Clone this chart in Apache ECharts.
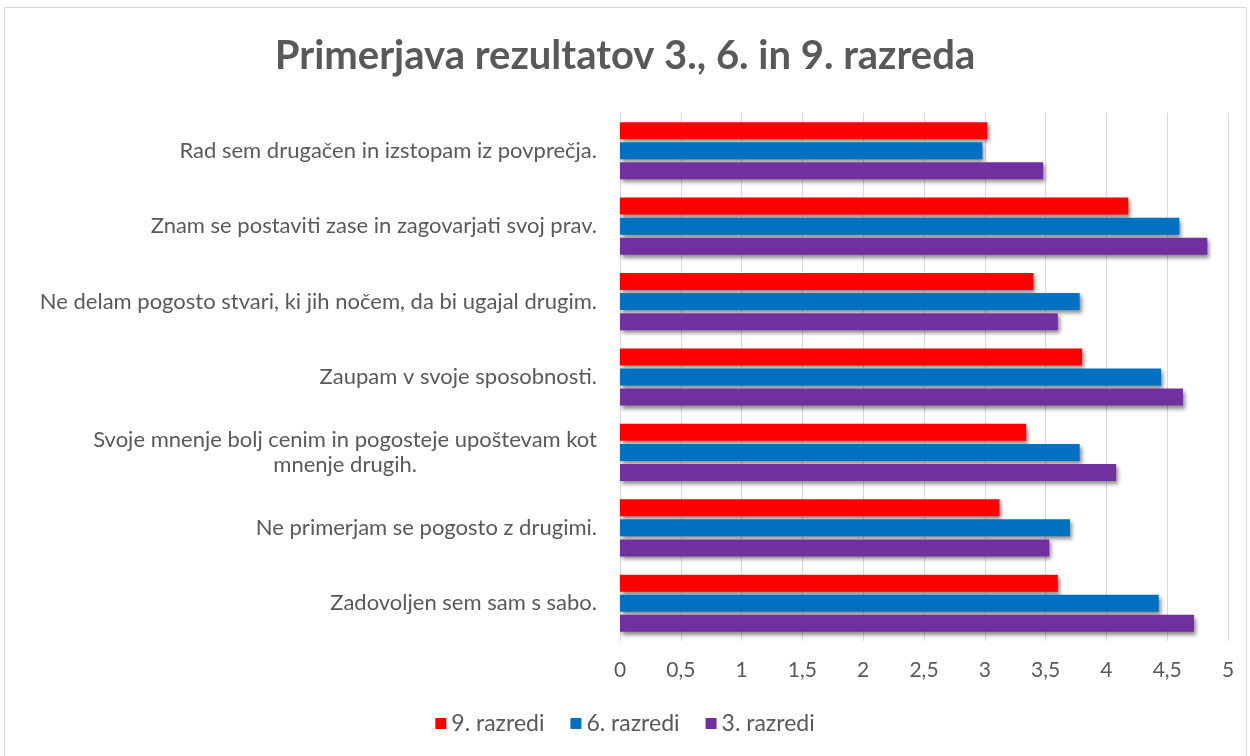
<!DOCTYPE html>
<html>
<head>
<meta charset="utf-8">
<script src="https://cdn.jsdelivr.net/npm/echarts@6/dist/echarts.min.js"></script>
<style>
  html, body { margin: 0; padding: 0; background: #fff; }
  #chart { width: 1250px; height: 756px; }
</style>
</head>
<body>
<div id="chart"></div>
<script>
  // kategorije (od zgoraj navzdol)
  var categories = [
    'Rad sem drugačen in izstopam iz povprečja.',
    'Znam se postaviti zase in zagovarjati svoj prav.',
    'Ne delam pogosto stvari, ki jih nočem, da bi ugajal drugim.',
    'Zaupam v svoje sposobnosti.',
    'Svoje mnenje bolj cenim in pogosteje upoštevam kot\nmnenje drugih.',
    'Ne primerjam se pogosto z drugimi.',
    'Zadovoljen sem sam s sabo.'
  ];
  var seriesNames = ['9. razredi', '6. razredi', '3. razredi'];
  var razred9 = [3.02, 4.18, 3.40, 3.80, 3.34, 3.12, 3.60];
  var razred6 = [2.98, 4.60, 3.78, 4.45, 3.78, 3.70, 4.43];
  var razred3 = [3.48, 4.83, 3.60, 4.63, 4.08, 3.53, 4.72];
  var colors = ['#FF0000', '#0070C0', '#7030A0'];

  var textColor = '#595959';
  var font = 'Lato, "Noto Sans", sans-serif';

  function barSeries(name, data, color) {
    return {
      name: name,
      type: 'bar',
      data: data,
      barWidth: 17,
      barGap: '18%',
      itemStyle: {
        color: color,
        shadowColor: 'rgba(0,0,0,0.45)',
        shadowBlur: 4,
        shadowOffsetX: 2,
        shadowOffsetY: 3
      }
    };
  }

  var myChart = echarts.init(document.getElementById('chart'));
  var options = {
    backgroundColor: '#fff',
    textStyle: { fontFamily: font },
    graphic: [{
      type: 'rect',
      shape: { x: 4.5, y: 7.5, width: 1242, height: 760 },
      style: { fill: 'none', stroke: '#d9d9d9', lineWidth: 1 },
      silent: true
    }],
    title: {
      text: 'Primerjava rezultatov 3., 6. in 9. razreda',
      left: 'center',
      top: 31,
      textStyle: {
        color: textColor,
        fontSize: 40,
        fontWeight: 'bold',
        fontFamily: font
      }
    },
    grid: {
      left: 620,
      right: 22,
      top: 113,
      bottom: 115
    },
    legend: {
      data: seriesNames,
      bottom: 16,
      left: 'center',
      icon: 'rect',
      itemWidth: 11,
      itemHeight: 11,
      itemGap: 26,
      textStyle: { color: textColor, fontSize: 23, fontFamily: font }
    },
    xAxis: {
      type: 'value',
      min: 0,
      max: 5,
      interval: 0.5,
      axisLine: { show: false },
      axisTick: { show: false },
      splitLine: { lineStyle: { color: '#d9d9d9', width: 1 } },
      axisLabel: {
        color: textColor,
        fontSize: 21,
        margin: 19,
        fontFamily: font,
        formatter: function (v) {
          return String(v).replace('.', ',');
        }
      }
    },
    yAxis: {
      type: 'category',
      inverse: true,
      data: categories,
      axisLine: { show: true, lineStyle: { color: '#d9d9d9' } },
      axisTick: { show: false },
      axisLabel: {
        color: textColor,
        fontSize: 22,
        margin: 23,
        lineHeight: 25,
        fontFamily: font,
        formatter: function (value) {
          if (value.indexOf('\n') < 0) return value;
          // dvovrstična oznaka: vrstici sredinsko
          return value.split('\n').map(function (s) {
            return '{c|' + s + '}';
          }).join('\n');
        },
        rich: {
          c: { align: 'center', color: textColor, fontSize: 22, lineHeight: 25, fontFamily: font }
        }
      }
    },
    series: [
      barSeries(seriesNames[0], razred9, colors[0]),
      barSeries(seriesNames[1], razred6, colors[1]),
      barSeries(seriesNames[2], razred3, colors[2])
    ]
  };
  myChart.setOption(options);
</script>
</body>
</html>
